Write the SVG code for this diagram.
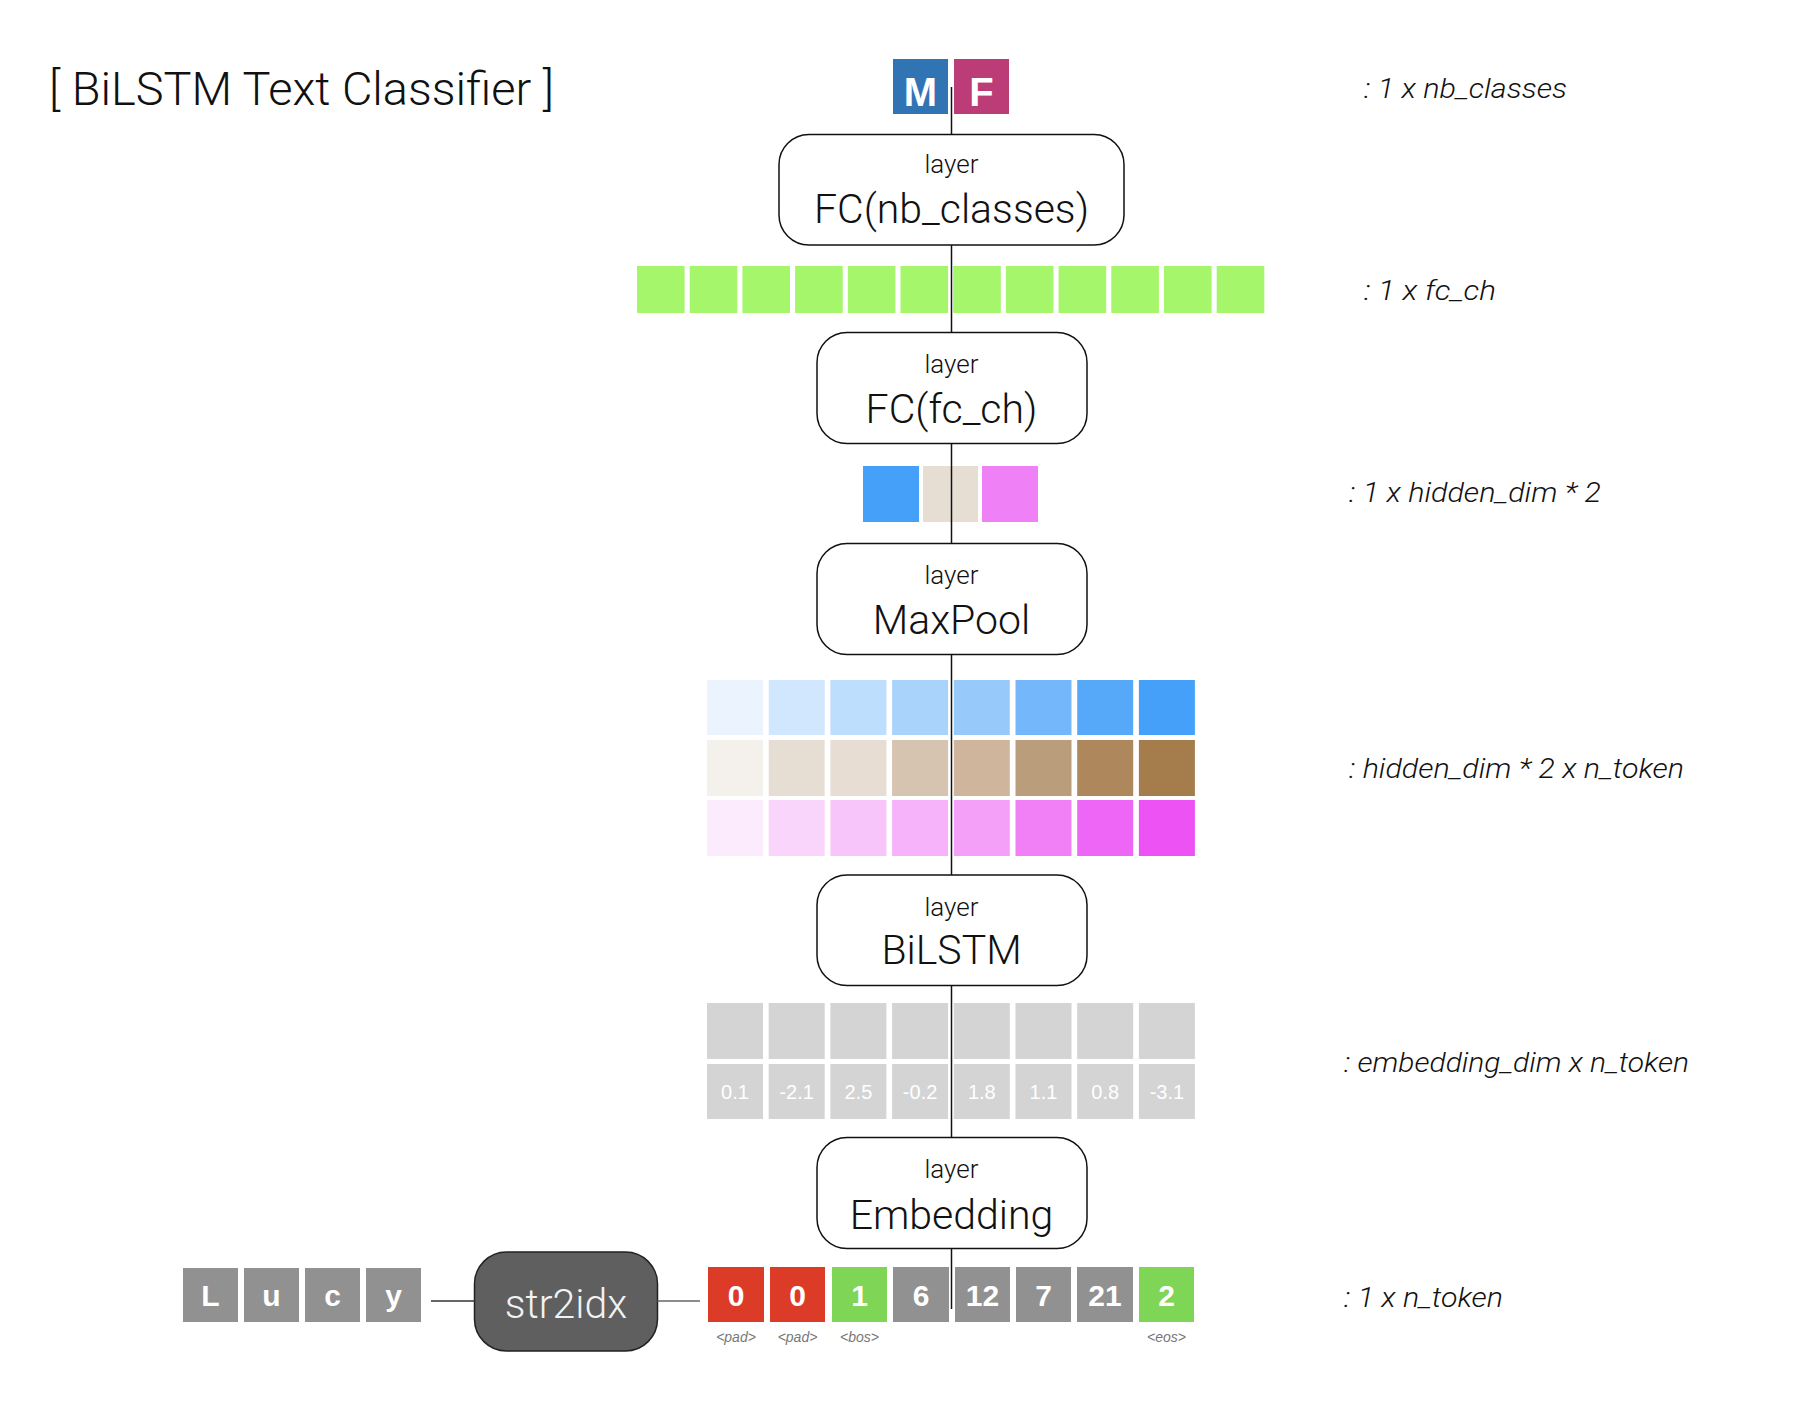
<svg xmlns="http://www.w3.org/2000/svg" width="1804" height="1402" viewBox="0 0 1804 1402">
<style>
  .t { font-family: Roboto, "Liberation Sans", sans-serif; font-weight: 300; fill: #111; }
  .title { font-size: 47px; }
  .lay { fill: #fff; stroke: #111; stroke-width: 1.5; }
  .small { font-size: 26px; text-anchor: middle; }
  .big { font-size: 41px; text-anchor: middle; }
  .dim { font-family: Roboto, "Liberation Sans", sans-serif; font-weight: 300; font-style: italic; font-size: 28px; fill: #111; }
  .bold { font-family: "Liberation Sans", Arial, sans-serif; font-weight: bold; fill: #fff; text-anchor: middle; }
  .val { font-family: "Liberation Sans", Arial, sans-serif; font-weight: 400; font-size: 20px; fill: #fff; text-anchor: middle; }
  .tag { font-family: "Liberation Sans", Arial, sans-serif; font-style: italic; font-size: 14px; fill: #777; text-anchor: middle; }
  .conn { stroke: #111; stroke-width: 1.5; fill: none; }
  .g { fill: #a5f66a; }
  .e { fill: #d4d4d4; }
  .tk { fill: #919191; }
  .red { fill: #dc3c27; }
  .grn { fill: #7fd556; }
</style>

<text class="t title" x="49" y="105" textLength="505" lengthAdjust="spacingAndGlyphs">[ BiLSTM Text Classifier ]</text>

<g id="out-classes">
  <rect x="893" y="59" width="55" height="55" fill="#3074b4"/>
  <rect x="954" y="59" width="55" height="55" fill="#bc3c77"/>
  <text class="bold" x="920.5" y="106" font-size="40">M</text>
  <text class="bold" x="981.5" y="106" font-size="40">F</text>
</g>

<g id="fc-nb">
  <rect class="lay" x="779" y="134.5" width="345" height="110.5" rx="30"/>
  <text class="t small" x="951.5" y="173">layer</text>
  <text class="t big" x="951.5" y="223">FC(nb_classes)</text>
</g>

<g id="fc-vec">
  <rect class="g" x="637" y="266" width="47.6" height="47"/>
  <rect class="g" x="689.7" y="266" width="47.6" height="47"/>
  <rect class="g" x="742.4" y="266" width="47.6" height="47"/>
  <rect class="g" x="795.1" y="266" width="47.6" height="47"/>
  <rect class="g" x="847.8" y="266" width="47.6" height="47"/>
  <rect class="g" x="900.5" y="266" width="47.6" height="47"/>
  <rect class="g" x="953.2" y="266" width="47.6" height="47"/>
  <rect class="g" x="1005.9" y="266" width="47.6" height="47"/>
  <rect class="g" x="1058.6" y="266" width="47.6" height="47"/>
  <rect class="g" x="1111.3" y="266" width="47.6" height="47"/>
  <rect class="g" x="1164" y="266" width="47.6" height="47"/>
  <rect class="g" x="1216.7" y="266" width="47.6" height="47"/>
</g>

<g id="fc-ch">
  <rect class="lay" x="817" y="332.5" width="270" height="111" rx="30"/>
  <text class="t small" x="951.5" y="373">layer</text>
  <text class="t big" x="951.5" y="423">FC(fc_ch)</text>
</g>

<g id="hidden-vec">
  <rect x="863" y="466" width="56" height="56" fill="#45a0f9"/>
  <rect x="923" y="466" width="55" height="56" fill="#e7ded3"/>
  <rect x="982" y="466" width="56" height="56" fill="#f080f5"/>
</g>

<g id="maxpool">
  <rect class="lay" x="817" y="543.5" width="270" height="111" rx="30"/>
  <text class="t small" x="951.5" y="584">layer</text>
  <text class="t big" x="951.5" y="634">MaxPool</text>
</g>

<g id="hidden-matrix">
  <rect x="707" y="680" width="56" height="55" fill="#ebf4fe"/>
  <rect x="768.7" y="680" width="56" height="55" fill="#d0e7fe"/>
  <rect x="830.4" y="680" width="56" height="55" fill="#bedefd"/>
  <rect x="892.1" y="680" width="56" height="55" fill="#aad3fc"/>
  <rect x="953.8" y="680" width="56" height="55" fill="#98c9fb"/>
  <rect x="1015.5" y="680" width="56" height="55" fill="#74b7fa"/>
  <rect x="1077.2" y="680" width="56" height="55" fill="#56a8f9"/>
  <rect x="1138.9" y="680" width="56" height="55" fill="#45a0f9"/>
  <rect x="707" y="740" width="56" height="56" fill="#f4f0eb"/>
  <rect x="768.7" y="740" width="56" height="56" fill="#e7ded3"/>
  <rect x="830.4" y="740" width="56" height="56" fill="#e7ddd2"/>
  <rect x="892.1" y="740" width="56" height="56" fill="#d6c3b0"/>
  <rect x="953.8" y="740" width="56" height="56" fill="#cfb59c"/>
  <rect x="1015.5" y="740" width="56" height="56" fill="#ba9d7b"/>
  <rect x="1077.2" y="740" width="56" height="56" fill="#ae875d"/>
  <rect x="1138.9" y="740" width="56" height="56" fill="#a57c4c"/>
  <rect x="707" y="800" width="56" height="56" fill="#fcebfc"/>
  <rect x="768.7" y="800" width="56" height="56" fill="#f9d4fb"/>
  <rect x="830.4" y="800" width="56" height="56" fill="#f8c5fb"/>
  <rect x="892.1" y="800" width="56" height="56" fill="#f6b3fa"/>
  <rect x="953.8" y="800" width="56" height="56" fill="#f49ff8"/>
  <rect x="1015.5" y="800" width="56" height="56" fill="#f17ff5"/>
  <rect x="1077.2" y="800" width="56" height="56" fill="#ee66f6"/>
  <rect x="1138.9" y="800" width="56" height="56" fill="#ec52f4"/>
</g>

<g id="bilstm">
  <rect class="lay" x="817" y="875" width="270" height="110.5" rx="30"/>
  <text class="t small" x="951.5" y="915.5">layer</text>
  <text class="t big" x="951.5" y="963.5">BiLSTM</text>
</g>

<g id="embed-matrix">
  <rect class="e" x="707" y="1003" width="56" height="56"/>
  <rect class="e" x="768.7" y="1003" width="56" height="56"/>
  <rect class="e" x="830.4" y="1003" width="56" height="56"/>
  <rect class="e" x="892.1" y="1003" width="56" height="56"/>
  <rect class="e" x="953.8" y="1003" width="56" height="56"/>
  <rect class="e" x="1015.5" y="1003" width="56" height="56"/>
  <rect class="e" x="1077.2" y="1003" width="56" height="56"/>
  <rect class="e" x="1138.9" y="1003" width="56" height="56"/>
  <rect class="e" x="707" y="1064" width="56" height="55"/>
  <rect class="e" x="768.7" y="1064" width="56" height="55"/>
  <rect class="e" x="830.4" y="1064" width="56" height="55"/>
  <rect class="e" x="892.1" y="1064" width="56" height="55"/>
  <rect class="e" x="953.8" y="1064" width="56" height="55"/>
  <rect class="e" x="1015.5" y="1064" width="56" height="55"/>
  <rect class="e" x="1077.2" y="1064" width="56" height="55"/>
  <rect class="e" x="1138.9" y="1064" width="56" height="55"/>
  <text class="val" x="735" y="1099">0.1</text>
  <text class="val" x="796.7" y="1099">-2.1</text>
  <text class="val" x="858.4" y="1099">2.5</text>
  <text class="val" x="920.1" y="1099">-0.2</text>
  <text class="val" x="981.8" y="1099">1.8</text>
  <text class="val" x="1043.5" y="1099">1.1</text>
  <text class="val" x="1105.2" y="1099">0.8</text>
  <text class="val" x="1166.9" y="1099">-3.1</text>
</g>

<g id="embedding">
  <rect class="lay" x="817" y="1137.5" width="270" height="111" rx="30"/>
  <text class="t small" x="951.5" y="1178">layer</text>
  <text class="t big" x="951.5" y="1229">Embedding</text>
</g>

<g id="input-chars">
  <rect class="tk" x="183" y="1268" width="55" height="54"/>
  <rect class="tk" x="244" y="1268" width="55" height="54"/>
  <rect class="tk" x="305" y="1268" width="55" height="54"/>
  <rect class="tk" x="366" y="1268" width="55" height="54"/>
  <text class="bold" x="210.5" y="1306" font-size="30">L</text>
  <text class="bold" x="271.5" y="1306" font-size="30">u</text>
  <text class="bold" x="332.5" y="1306" font-size="30">c</text>
  <text class="bold" x="393.5" y="1306" font-size="30">y</text>
</g>

<g id="str2idx">
  <rect x="474.5" y="1252" width="183" height="99" rx="32" fill="#5f5f5f" stroke="#222" stroke-width="1.5"/>
  <text class="t" x="566" y="1318" font-size="41" text-anchor="middle" style="fill:#f2f2f2">str2idx</text>
</g>

<g id="tokens">
  <rect class="red" x="708" y="1267" width="56" height="55"/>
  <rect class="red" x="770" y="1267" width="55" height="55"/>
  <rect class="grn" x="832" y="1267" width="55" height="55"/>
  <rect class="tk" x="893" y="1267" width="56" height="55"/>
  <rect class="tk" x="955" y="1267" width="55" height="55"/>
  <rect class="tk" x="1016" y="1267" width="55" height="55"/>
  <rect class="tk" x="1077" y="1267" width="56" height="55"/>
  <rect class="grn" x="1139" y="1267" width="55" height="55"/>
  <text class="bold" x="736" y="1306" font-size="30">0</text>
  <text class="bold" x="797.5" y="1306" font-size="30">0</text>
  <text class="bold" x="859.5" y="1306" font-size="30">1</text>
  <text class="bold" x="921" y="1306" font-size="30">6</text>
  <text class="bold" x="982.5" y="1306" font-size="30">12</text>
  <text class="bold" x="1043.5" y="1306" font-size="30">7</text>
  <text class="bold" x="1105" y="1306" font-size="30">21</text>
  <text class="bold" x="1166.5" y="1306" font-size="30">2</text>
  <text class="tag" x="736" y="1342">&lt;pad&gt;</text>
  <text class="tag" x="797.5" y="1342">&lt;pad&gt;</text>
  <text class="tag" x="859.5" y="1342">&lt;bos&gt;</text>
  <text class="tag" x="1166.5" y="1342">&lt;eos&gt;</text>
</g>

<g id="dims">
  <text class="dim" x="1364" y="98" textLength="203" lengthAdjust="spacingAndGlyphs">: 1 x nb_classes</text>
  <text class="dim" x="1364" y="300" textLength="132" lengthAdjust="spacingAndGlyphs">: 1 x fc_ch</text>
  <text class="dim" x="1349" y="502" textLength="252" lengthAdjust="spacingAndGlyphs">: 1 x hidden_dim * 2</text>
  <text class="dim" x="1349" y="778" textLength="335" lengthAdjust="spacingAndGlyphs">: hidden_dim * 2 x n_token</text>
  <text class="dim" x="1344" y="1072" textLength="345" lengthAdjust="spacingAndGlyphs">: embedding_dim x n_token</text>
  <text class="dim" x="1344" y="1307" textLength="159" lengthAdjust="spacingAndGlyphs">: 1 x n_token</text>
</g>

<g id="connectors">
  <line class="conn" x1="951.5" y1="87" x2="951.5" y2="134.5"/>
  <line class="conn" x1="951.5" y1="245" x2="951.5" y2="332.5"/>
  <line class="conn" x1="951.5" y1="443.5" x2="951.5" y2="543.5"/>
  <line class="conn" x1="951.5" y1="654.5" x2="951.5" y2="875"/>
  <line class="conn" x1="951.5" y1="985.5" x2="951.5" y2="1137.5"/>
  <line class="conn" x1="951.5" y1="1248.5" x2="951.5" y2="1309"/>
  <line x1="431" y1="1301" x2="474.5" y2="1301" stroke="#333" stroke-width="1.5"/>
  <line x1="657.5" y1="1301" x2="700" y2="1301" stroke="#666" stroke-width="1.5"/>
</g>
</svg>
